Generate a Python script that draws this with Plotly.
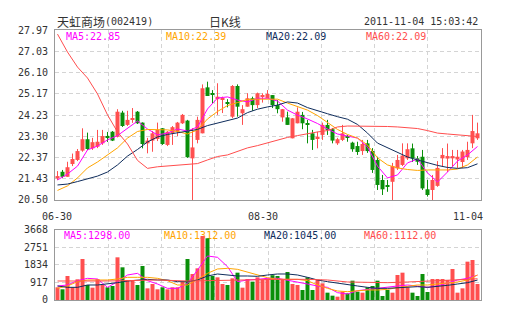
import plotly.graph_objects as go

# ---- header text -------------------------------------------------------
stock_name = "天虹商场"
stock_code = "(002419)"
chart_kind = "日K线"
timestamp = "2011-11-04 15:03:42"

# ---- daily candles, 2011-06-30 .. 2011-11-04 ---------------------------
opens = [21.45, 21.74, 21.52, 22.08, 22.26, 22.67, 23.17, 22.77, 22.84, 22.99,
         23.31, 23.50, 23.28, 24.34, 23.80, 24.02, 24.38, 23.90, 22.99, 23.11,
         23.18, 23.65, 22.92, 23.43, 23.50, 23.87, 23.99, 22.33, 23.14, 23.43,
         25.45, 25.18, 24.93, 24.93, 24.76, 24.16, 25.51, 24.31, 24.60, 24.97,
         24.67, 25.04, 24.97, 25.11, 24.67, 24.13, 24.13, 23.21, 23.87, 24.24,
         23.87, 23.43, 23.21, 23.36, 23.80, 23.61, 22.99, 23.14, 23.27, 23.02,
         22.87, 22.65, 22.99, 22.65, 22.26, 21.38, 21.14, 21.30, 21.89, 22.04,
         22.33, 22.77, 22.33, 22.40, 20.97, 20.94, 21.12, 22.33, 22.32, 22.33,
         22.28, 22.17, 22.38, 22.99, 23.21]
highs = [21.77, 21.82, 22.18, 22.54, 22.74, 23.65, 23.46, 23.23, 23.58, 23.58,
         23.49, 23.53, 24.49, 24.42, 24.42, 24.54, 24.41, 23.91, 23.23, 23.53,
         23.90, 23.66, 23.53, 23.75, 23.93, 24.28, 24.02, 23.66, 24.16, 25.58,
         25.70, 25.33, 25.63, 25.04, 24.93, 25.55, 25.58, 24.67, 25.19, 25.04,
         25.22, 25.19, 25.33, 25.11, 24.89, 24.50, 24.38, 24.10, 24.57, 24.37,
         24.02, 23.58, 23.50, 23.90, 24.02, 23.66, 23.23, 23.80, 23.36, 23.06,
         23.06, 23.14, 23.14, 22.78, 22.40, 21.60, 21.38, 22.13, 22.48, 22.99,
         22.99, 22.98, 22.43, 22.70, 21.38, 21.60, 22.21, 22.78, 22.98, 22.70,
         22.70, 22.70, 23.06, 24.24, 23.90]
lows = [21.38, 21.47, 21.52, 21.99, 22.21, 22.62, 22.70, 22.70, 22.78, 22.92,
        23.05, 23.09, 23.25, 23.71, 23.75, 23.89, 23.84, 22.77, 22.55, 22.62,
        23.09, 22.92, 22.87, 22.92, 23.31, 23.84, 22.35, 20.50, 22.99, 23.43,
        25.07, 24.75, 24.24, 24.32, 24.57, 24.10, 24.16, 23.80, 24.60, 24.42,
        24.54, 24.78, 24.97, 24.54, 24.31, 23.94, 23.80, 23.21, 23.87, 23.61,
        22.99, 22.70, 22.77, 23.14, 23.36, 22.99, 22.92, 23.09, 23.06, 22.62,
        22.48, 22.48, 22.57, 21.69, 20.94, 20.72, 20.86, 20.50, 21.82, 21.99,
        22.26, 22.17, 22.04, 20.94, 20.65, 20.50, 21.08, 21.96, 21.73, 21.96,
        21.91, 21.91, 22.26, 22.78, 23.14]
closes = [21.55, 21.52, 21.94, 22.30, 22.65, 23.17, 22.74, 23.04, 23.06, 23.31,
          23.26, 23.11, 24.38, 23.75, 24.02, 24.09, 23.87, 22.96, 23.11, 23.43,
          23.58, 22.96, 23.50, 23.70, 23.90, 24.24, 22.38, 22.81, 24.02, 25.41,
          25.07, 25.14, 25.04, 24.97, 24.73, 25.51, 24.60, 24.49, 24.97, 24.67,
          25.19, 25.11, 25.16, 24.67, 24.49, 24.49, 23.80, 24.09, 24.38, 23.87,
          23.83, 23.14, 23.28, 23.80, 23.58, 23.11, 23.17, 23.43, 23.24, 22.73,
          22.61, 22.96, 22.65, 21.82, 21.16, 20.97, 21.09, 21.99, 22.26, 22.45,
          22.73, 22.33, 22.18, 21.01, 20.72, 21.38, 21.91, 22.48, 22.43, 22.43,
          22.40, 22.63, 22.70, 23.53, 23.43]
volumes = [665, 560, 1258, 665, 1084, 2148, 786, 646, 1100, 786,
           665, 734, 2236, 1712, 1048, 1013, 786, 1782, 611, 838,
           560, 665, 560, 665, 665, 961, 2148, 1362, 1660, 3354,
           3233, 1258, 1188, 838, 786, 1135, 1432, 646, 1100, 961,
           1188, 1048, 1135, 1300, 1258, 1048, 1467, 838, 786, 524,
           1188, 524, 1048, 873, 384, 227, 175, 437, 350, 1013,
           437, 384, 664, 734, 1013, 210, 524, 384, 1310, 1432,
           664, 384, 210, 1362, 419, 1100, 1100, 1100, 1048, 1624,
           384, 611, 2009, 2096, 838]

# ---- moving averages (price) -------------------------------------------
ma_idx = list(range(0, 85, 2))
ma5 = [21.38, 21.64, 21.99, 22.70, 22.87, 23.14, 23.33, 23.66, 23.97, 23.62,
       23.36, 23.44, 23.62, 23.53, 23.71, 24.50, 24.98, 25.03, 24.89, 24.81,
       24.97, 24.97, 24.85, 24.45, 24.23, 24.06, 23.86, 23.62, 23.40, 23.31,
       23.22, 22.83, 21.99, 21.47, 21.60, 22.13, 22.30, 21.69, 21.29, 21.73,
       22.21, 22.48, 22.85]
ma10 = [20.92, 21.12, 21.47, 21.91, 22.17, 22.48, 22.79, 23.22, 23.51, 23.60,
        23.60, 23.58, 23.51, 23.40, 23.58, 24.06, 24.39, 24.65, 24.78, 24.92,
        24.93, 24.93, 24.93, 24.76, 24.62, 24.45, 24.21, 23.90, 23.60, 23.38,
        23.22, 22.92, 22.35, 22.04, 21.91, 21.84, 21.80, 21.82, 21.82, 21.82,
        21.86, 22.04, 22.39]
ma20 = [21.16, 21.20, 21.31, 21.44, 21.55, 21.73, 22.04, 22.43, 22.72, 23.05,
        23.27, 23.38, 23.45, 23.51, 23.60, 23.77, 23.87, 23.99, 24.10, 24.34,
        24.49, 24.59, 24.67, 24.81, 24.76, 24.56, 24.41, 24.29, 24.16, 24.05,
        23.82, 23.44, 23.00, 22.79, 22.61, 22.39, 22.26, 22.13, 22.02, 21.93,
        21.89, 21.92, 22.09]
ma60 = [27.79, 27.00, 26.34, 25.86, 25.16, 24.24, 23.49, 22.96, 22.24, 21.89,
        21.96, 21.99, 22.02, 22.06, 22.10, 22.26, 22.41, 22.48, 22.63, 22.79,
        22.89, 23.02, 23.14, 23.25, 23.33, 23.42, 23.49, 23.55, 23.71, 23.75,
        23.75, 23.75, 23.75, 23.73, 23.71, 23.67, 23.64, 23.55, 23.44, 23.40,
        23.36, 23.33, 23.29]

# ---- moving averages (volume) ------------------------------------------
vol_ma_idx = list(range(0, 85, 2))
vol_ma5 = [734, 786, 1013, 1135, 1100, 664, 961, 1310, 1397, 1013,
           838, 611, 611, 873, 1572, 2306, 2236, 1747, 961, 1048,
           1083, 1135, 1135, 1048, 961, 838, 734, 664, 384, 314,
           489, 559, 611, 664, 734, 786, 734, 664, 734, 873,
           1048, 1135, 1298]
vol_ma10 = [611, 734, 961, 1048, 1048, 1048, 1100, 1188, 1188, 1188,
            1135, 1013, 786, 786, 1083, 1397, 1624, 1659, 1607, 1467,
            1300, 1170, 1083, 1083, 1083, 1013, 786, 611, 472, 437,
            489, 524, 524, 559, 646, 734, 786, 786, 838, 873,
            943, 1048, 1312]
vol_ma20 = [734, 664, 664, 786, 786, 838, 908, 996, 1048, 1083,
            1048, 1048, 961, 961, 1048, 1258, 1362, 1310, 1258, 1258,
            1240, 1310, 1362, 1362, 1310, 1188, 1048, 961, 873, 803,
            734, 664, 611, 611, 646, 699, 699, 664, 699, 768,
            838, 908, 1045]
vol_ma60_idx = [0, 10, 20, 26, 30, 36, 40, 44, 50, 54, 58, 62, 66, 70, 74, 78, 82, 84]
vol_ma60 = [996, 996, 1048, 996, 1013, 1048, 1048, 1083, 1083, 1048,
            943, 908, 908, 943, 978, 1048, 1083, 1112]

# ---- axis labels and legend text ---------------------------------------
price_ticks = [20.50, 21.43, 22.37, 23.30, 24.23, 25.17, 26.10, 27.03, 27.97]
price_tick_text = ["20.50", "21.43", "22.37", "23.30", "24.23", "25.17", "26.10", "27.03", "27.97"]
vol_ticks = [0, 917, 1834, 2751, 3668]
vol_tick_text = ["0", "917", "1834", "2751", "3668"]
date_labels = ["06-30", "08-30", "11-04"]
date_idx = [0, 41, 84]

ma_names = ["MA5", "MA10", "MA20", "MA60"]
ma_price_text = ["22.85", "22.39", "22.09", "22.09"]
ma_vol_text = ["1298.00", "1312.00", "1045.00", "1112.00"]

# ---- styling -----------------------------------------------------------
UP = "#ff4f4f"
DOWN = "#0a8f0a"
MA_COLORS = ["#ff00ff", "#ffa500", "#0f2d5c", "#ff4d4d"]
GRID = "#d4d4d4"
FRAME = "#999999"
TEXT = "#333333"
MONO = "DejaVu Sans Mono"
CJK = "Noto Sans CJK SC"

W, H = 505, 330
ML, MR, MT, MB = 55, 24, 30, 30
X0, X1 = -0.5, 84.7
PX_PER_UNIT = (W - ML - MR) / (X1 - X0)
PRICE_DOMAIN = [0.3704, 1.0]
VOL_DOMAIN = [0.0, 0.2593]
VOL_TOP_PX = 230
VOL_BOTTOM_PX = 300

n = len(closes)
idx = list(range(n))
rising = [c >= o for o, c in zip(opens, closes)]
colors = [UP if r else DOWN for r in rising]

fig = go.Figure()

# wicks, one trace per colour
for want, col in ((True, UP), (False, DOWN)):
    xs, ys = [], []
    for i in idx:
        if rising[i] == want:
            xs += [i, i, None]
            ys += [lows[i], highs[i], None]
    fig.add_trace(go.Scatter(x=xs, y=ys, mode="lines", line=dict(color=col, width=1),
                             xaxis="x", yaxis="y", hoverinfo="skip", showlegend=False))

# candle bodies
body_base = [min(o, c) for o, c in zip(opens, closes)]
body_h = [max(abs(c - o), 0.04) for o, c in zip(opens, closes)]
fig.add_trace(go.Bar(x=idx, y=body_h, base=body_base, width=0.8,
                     marker=dict(color=colors, line=dict(width=0)),
                     xaxis="x", yaxis="y", showlegend=False, hoverinfo="skip"))

# price moving averages
for vals, col in zip([ma5, ma10, ma20, ma60], MA_COLORS):
    fig.add_trace(go.Scatter(x=ma_idx, y=vals, mode="lines", line=dict(color=col, width=1),
                             xaxis="x", yaxis="y", showlegend=False, hoverinfo="skip"))

# volume captions sit on the base volume axis so the bars paint over them
cap_y = vol_ticks[-1] * (VOL_BOTTOM_PX - 236.5) / (VOL_BOTTOM_PX - VOL_TOP_PX)
for k, (name, vv, col) in enumerate(zip(ma_names, ma_vol_text, MA_COLORS)):
    cap_x = X0 + (64 + 100 * k - ML) / PX_PER_UNIT
    fig.add_trace(go.Scatter(x=[cap_x], y=[cap_y], mode="text", text=[f"{name}:{vv}"],
                             textposition="middle right", cliponaxis=False,
                             textfont=dict(family=MONO, size=10, color=col),
                             xaxis="x2", yaxis="y2", showlegend=False, hoverinfo="skip"))

# volume bars (overlay axis, drawn above the captions)
fig.add_trace(go.Bar(x=idx, y=volumes, width=0.8,
                     marker=dict(color=colors, line=dict(width=0)),
                     xaxis="x2", yaxis="y3", showlegend=False, hoverinfo="skip"))

# volume moving averages
for xv, vals, col in zip([vol_ma_idx, vol_ma_idx, vol_ma_idx, vol_ma60_idx],
                         [vol_ma5, vol_ma10, vol_ma20, vol_ma60], MA_COLORS):
    fig.add_trace(go.Scatter(x=xv, y=vals, mode="lines", line=dict(color=col, width=1),
                             xaxis="x2", yaxis="y3", showlegend=False, hoverinfo="skip"))

# vertical grid: 8 equal columns
xgrid = [X0 + k * (X1 - X0) / 8 for k in range(1, 8)]
frame = dict(showline=True, mirror=True, linecolor=FRAME, linewidth=1, zeroline=False)
grid = dict(showgrid=True, gridcolor=GRID, gridwidth=1, griddash="4px,3px")

xcommon = dict(range=[X0, X1], tickmode="array", tickvals=xgrid, showticklabels=False,
               ticks="", **grid, **frame)
fig.update_layout(
    xaxis=dict(anchor="y", **xcommon),
    xaxis2=dict(anchor="y2", **xcommon),
    yaxis=dict(domain=PRICE_DOMAIN, anchor="x", range=[price_ticks[0], price_ticks[-1]],
               tickmode="array", tickvals=price_ticks, ticktext=price_tick_text,
               tickfont=dict(family=MONO, size=10, color=TEXT), ticks="",
               ticklabelstandoff=4, **grid, **frame),
    yaxis2=dict(domain=VOL_DOMAIN, anchor="x2", range=[vol_ticks[0], vol_ticks[-1]],
                tickmode="array", tickvals=vol_ticks, ticktext=vol_tick_text,
                tickfont=dict(family=MONO, size=10, color=TEXT), ticks="",
                ticklabelstandoff=4, **grid, **frame),
    yaxis3=dict(overlaying="y2", anchor="x2", range=[vol_ticks[0], vol_ticks[-1]],
                showgrid=False, showticklabels=False, ticks="", zeroline=False, showline=False),
    width=W, height=H,
    margin=dict(l=ML, r=MR, t=MT, b=MB, pad=0),
    paper_bgcolor="white", plot_bgcolor="white",
    barmode="overlay", showlegend=False,
)

ann = []
plot_w = W - ML - MR
plot_h = H - MT - MB


def px_x(px):
    return (px - ML) / plot_w


def px_y(py):
    return (H - MB - py) / plot_h


# header
ann.append(dict(text=stock_name, x=px_x(55), y=px_y(21.5), xanchor="left", yanchor="middle",
                font=dict(family=CJK, size=12, color=TEXT)))
ann.append(dict(text=stock_code, x=px_x(103), y=px_y(21.5), xanchor="left", yanchor="middle",
                font=dict(family=MONO, size=10, color=TEXT)))
ann.append(dict(text=chart_kind, x=px_x(225), y=px_y(21.5), xanchor="center", yanchor="middle",
                font=dict(family=CJK, size=12, color=TEXT)))
ann.append(dict(text=timestamp, x=px_x(480), y=px_y(22), xanchor="right", yanchor="middle",
                font=dict(family=MONO, size=10, color=TEXT)))

# moving-average captions in the price panel
for k, (name, pv, col) in enumerate(zip(ma_names, ma_price_text, MA_COLORS)):
    ann.append(dict(text=f"{name}:{pv}", x=px_x(64 + 100 * k), y=px_y(36.5),
                    xanchor="left", yanchor="middle",
                    font=dict(family=MONO, size=10, color=col)))

# date labels between the panels
anchors = ["center", "center", "right"]
shifts = [-1, 0, 4]
for lab, i, a, s in zip(date_labels, date_idx, anchors, shifts):
    ann.append(dict(text=lab, x=i if a == "center" else X1, xref="x", y=px_y(216.5), yref="paper",
                    xanchor=a, yanchor="middle", xshift=s,
                    font=dict(family=MONO, size=10, color=TEXT)))

for a in ann:
    a.setdefault("xref", "paper")
    a.setdefault("yref", "paper")
    a["showarrow"] = False
fig.update_layout(annotations=ann)

fig.write_html("out.html")
